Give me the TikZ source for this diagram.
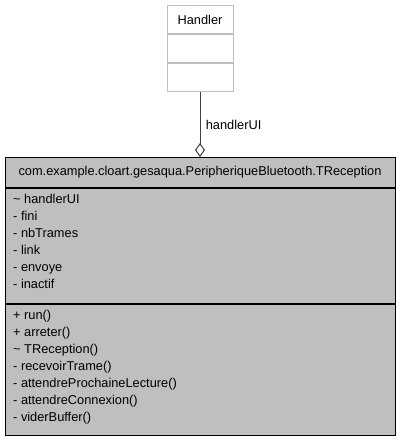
\documentclass[tikz,border=0pt]{standalone}
\usepackage{fontspec}
\setmainfont{Liberation Sans}
\usetikzlibrary{
		positioning,
		arrows.meta
	}
\tikzset{
		>=stealth
	}
\definecolor{umlgray}{HTML}{BFBFBF}
\definecolor{edgegray}{HTML}{404040}
\tikzset{
		hbox/.style={draw=umlgray, fill=white, line width=1pt, minimum width=66pt, inner sep=0pt},
		cbox/.style={draw=black, fill=umlgray, line width=1pt, minimum width=390pt, inner sep=0pt},
		member/.style={anchor=base west, inner sep=0pt}
	}

\begin{document}
\begin{tikzpicture}[x=1pt, y=-1pt, font=\fontsize{12.8}{14}\selectfont] % (1 unit = 1 pixel, y going down)
		\useasboundingbox (0,0) rectangle (400,440);
		% the Handler class
		\node[hbox, minimum height=28pt, anchor=north] (hname) at (200,5) {Handler};
		\node[hbox, minimum height=28pt, below=0pt of hname] (hattr) {};
		\node[hbox, minimum height=28pt, below=0pt of hattr] (hops) {};
		% the TReception class
		\node[cbox, minimum height=30pt, anchor=north] (cname) at (200,157) {com.example.cloart.gesaqua.PeripheriqueBluetooth.TReception};
		\node[cbox, minimum height=115pt, below=0pt of cname] (cattr) {};
		\node[cbox, minimum height=131pt, below=0pt of cattr] (cops) {};
		\foreach[count=\i] ~ in {\textasciitilde{} handlerUI, - fini, - nbTrames, - link, - envoye, - inactif}{
			\node[member] (attr\i) at (13,186+17*\i) {~}; % attributes
		}
		\foreach[count=\i] ~ in {+ run(), + arreter(), \textasciitilde{} TReception(), - recevoirTrame(), - attendreProchaineLecture(), - attendreConnexion(), - viderBuffer()}{
			\node[member] (op\i) at (13,302+17*\i) {~}; % operations
		}
		% aggregation
		\draw[edgegray, line width=1pt, -{Diamond[fill=white, length=14pt, width=10pt]}] (hops) -- (cname) node[midway, right=2pt, text=black] {handlerUI};
	\end{tikzpicture}
\end{document}
